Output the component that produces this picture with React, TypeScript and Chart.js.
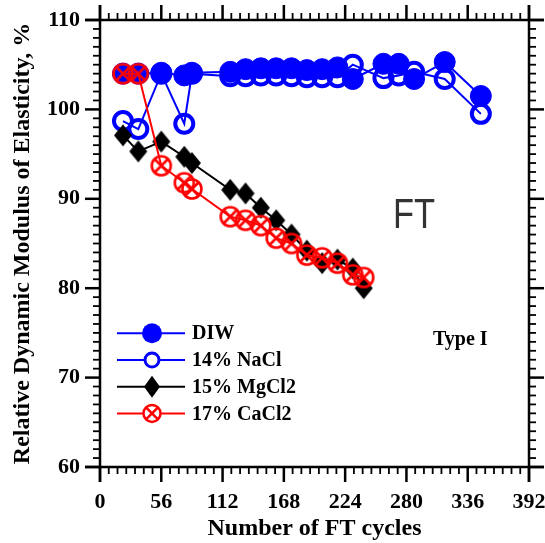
import React, { useEffect, useRef } from 'react';
import { Chart, registerables } from 'chart.js';

Chart.register(...registerables);

// ---- data ----
const cleanCycles = [21, 35, 56, 77, 84, 119, 133, 147, 161, 175, 189, 203, 217, 231, 259, 273, 287, 315, 348];
const diw = [104.0, 104.0, 104.1, 103.8, 104.1, 104.2, 104.5, 104.6, 104.6, 104.6, 104.4, 104.5, 104.7, 103.4, 105.1, 105.1, 103.4, 105.3, 101.5];
const nacl = [98.7, 97.8, 104.0, 98.4, 104.0, 103.7, 103.7, 103.8, 103.8, 103.7, 103.6, 103.6, 103.6, 105.0, 103.5, 103.8, 104.2, 103.4, 99.5];
const saltCycles = [21, 35, 56, 77, 84, 119, 133, 147, 161, 175, 189, 203, 217, 231, 241];
const mgcl2 = [97.1, 95.3, 96.4, 94.7, 94.0, 91.0, 90.6, 89.0, 87.6, 86.0, 84.2, 82.8, 83.2, 82.2, 80.0];
const cacl2 = [104.0, 104.0, 93.7, 91.8, 91.1, 88.0, 87.6, 87.0, 85.6, 85.0, 83.7, 83.4, 82.8, 81.5, 81.2];
const seriesNames = ['DIW', '14% NaCl', '15% MgCl2', '17% CaCl2'];

const xMin = 0, xMax = 392, xMajor = 56, xMinor = 8;
const yMin = 60, yMax = 110, yMajor = 10, yMinor = 1;

const SERIF = '"Liberation Serif", "Times New Roman", serif';
const BLUE = '#0000ff';
const RED = '#ff0000';

// ---- marker painters ----
function paintFilledCircle(ctx: CanvasRenderingContext2D, x: number, y: number, r: number) {
  ctx.beginPath(); ctx.arc(x, y, r, 0, Math.PI * 2); ctx.fillStyle = BLUE; ctx.fill();
}
function paintOpenCircle(ctx: CanvasRenderingContext2D, x: number, y: number, r: number, lw: number) {
  ctx.beginPath(); ctx.arc(x, y, r, 0, Math.PI * 2); ctx.lineWidth = lw; ctx.strokeStyle = BLUE; ctx.stroke();
}
function paintDiamond(ctx: CanvasRenderingContext2D, x: number, y: number, hw: number, hh: number) {
  ctx.beginPath();
  ctx.moveTo(x, y - hh); ctx.lineTo(x + hw, y); ctx.lineTo(x, y + hh); ctx.lineTo(x - hw, y); ctx.closePath();
  ctx.fillStyle = '#000'; ctx.fill();
}
function paintCrossCircle(ctx: CanvasRenderingContext2D, x: number, y: number, r: number, lw: number) {
  ctx.lineWidth = lw; ctx.strokeStyle = RED;
  ctx.beginPath(); ctx.arc(x, y, r, 0, Math.PI * 2); ctx.stroke();
  const d = r * Math.SQRT1_2;
  ctx.beginPath();
  ctx.moveTo(x - d, y - d); ctx.lineTo(x + d, y + d);
  ctx.moveTo(x + d, y - d); ctx.lineTo(x - d, y + d);
  ctx.stroke();
}
function makeCanvas(w: number, h: number, paint: (c: CanvasRenderingContext2D) => void) {
  const c = document.createElement('canvas');
  c.width = w; c.height = h;
  const cx = c.getContext('2d')!;
  paint(cx);
  return c;
}

const decorPlugin = {
  id: 'decor',
  beforeDatasetsDraw(chart: any) {
    const ctx: CanvasRenderingContext2D = chart.ctx;
    const { left, right, top, bottom } = chart.chartArea;
    const xs = chart.scales.x, ys = chart.scales.y;
    ctx.save();
    ctx.strokeStyle = '#000';
    ctx.lineCap = 'butt';
    const ext = 15;
    const seg = (x1: number, y1: number, x2: number, y2: number) => { ctx.beginPath(); ctx.moveTo(x1, y1); ctx.lineTo(x2, y2); ctx.stroke(); };
    ctx.lineWidth = 2.5;
    seg(left - ext, bottom, right + ext, bottom);
    seg(left - ext, top, right + ext, top);
    seg(left, top - ext, left, bottom + ext);
    seg(right, top - ext, right, bottom + ext);
    for (let v = xMin; v <= xMax + 1e-9; v += xMinor) {
      const px = xs.getPixelForValue(v);
      const major = Math.abs(v % xMajor) < 1e-9;
      const L = major ? 15 : 7;
      ctx.lineWidth = major ? 2.5 : 1.8;
      seg(px, bottom, px, bottom + L);
      seg(px, top, px, top - L);
    }
    for (let v = yMin; v <= yMax + 1e-9; v += yMinor) {
      const py = ys.getPixelForValue(v);
      const major = Math.abs(v % yMajor) < 1e-9;
      const L = major ? 15 : 7;
      ctx.lineWidth = major ? 2.5 : 1.8;
      seg(left, py, left - L, py);
      seg(right, py, right + L, py);
    }
    ctx.restore();
  },
  afterDatasetsDraw(chart: any) {
    const ctx: CanvasRenderingContext2D = chart.ctx;
    ctx.save();
    // legend
    const rowY0 = 333.3, rowStep = 26.7;
    const lineX1 = 117, lineX2 = 185, markX = 152, textX = 192;
    const colors = [BLUE, BLUE, '#000', RED];
    seriesNames.forEach((name, i) => {
      const y = rowY0 + i * rowStep;
      ctx.strokeStyle = colors[i]; ctx.lineWidth = 2;
      ctx.beginPath(); ctx.moveTo(lineX1, y); ctx.lineTo(lineX2, y); ctx.stroke();
      if (i === 0) paintFilledCircle(ctx, markX, y, 10);
      if (i === 1) { ctx.fillStyle = '#fff'; ctx.beginPath(); ctx.arc(markX, y, 7, 0, Math.PI * 2); ctx.fill(); paintOpenCircle(ctx, markX, y, 7, 3); }
      if (i === 2) paintDiamond(ctx, markX, y, 8, 11);
      if (i === 3) { ctx.fillStyle = '#fff'; ctx.beginPath(); ctx.arc(markX, y, 8.5, 0, Math.PI * 2); ctx.fill(); paintCrossCircle(ctx, markX, y, 8.5, 2.5); }
      ctx.fillStyle = '#000';
      ctx.font = 'bold 20px ' + SERIF;
      ctx.textBaseline = 'middle';
      ctx.textAlign = 'left';
      ctx.fillText(name, textX, y + 1);
    });
    // annotations
    ctx.font = 'bold 20px ' + SERIF;
    ctx.textBaseline = 'alphabetic';
    ctx.fillStyle = '#000';
    ctx.fillText('Type I', 433, 345);
    ctx.save();
    ctx.translate(393, 228);
    ctx.scale(0.82, 1);
    ctx.font = '42px "Liberation Sans", Arial, sans-serif';
    ctx.fillStyle = '#333333';
    ctx.fillText('FT', 0, 0);
    ctx.restore();
    ctx.restore();
  },
};

const zeroPad = (s: any) => { s.paddingLeft = 0; s.paddingRight = 0; s.paddingTop = 0; s.paddingBottom = 0; };

export default function App() {
  const ref = useRef<HTMLCanvasElement>(null);
  useEffect(() => {
    const crossImg = makeCanvas(24, 24, (c) => paintCrossCircle(c, 12, 12, 9.5, 2.6));
    const diamondImg = makeCanvas(20, 24, (c) => paintDiamond(c, 10, 12, 9, 11));
    const tickFont = { family: SERIF, size: 22, weight: 'bold' as const };
    const titleFont = { family: SERIF, size: 24, weight: 'bold' as const };
    const chart = new Chart(ref.current!, {
      type: 'line',
      data: {
        datasets: [
          {
            label: seriesNames[0],
            data: cleanCycles.map((c, i) => ({ x: c, y: diw[i] })),
            borderColor: BLUE, borderWidth: 2,
            pointStyle: 'circle', pointRadius: 10.5, pointBorderWidth: 1,
            pointBackgroundColor: BLUE, pointBorderColor: BLUE,
            tension: 0, order: 3,
          },
          {
            label: seriesNames[1],
            data: cleanCycles.map((c, i) => ({ x: c, y: nacl[i] })),
            borderColor: BLUE, borderWidth: 2,
            pointStyle: 'circle', pointRadius: 9, pointBorderWidth: 4,
            pointBackgroundColor: 'rgba(0,0,0,0)', pointBorderColor: BLUE,
            tension: 0, order: 4,
          },
          {
            label: seriesNames[2],
            data: saltCycles.map((c, i) => ({ x: c, y: mgcl2[i] })),
            borderColor: '#000', borderWidth: 2,
            pointStyle: diamondImg as any, pointRadius: 10,
            tension: 0, order: 2,
          },
          {
            label: seriesNames[3],
            data: saltCycles.map((c, i) => ({ x: c, y: cacl2[i] })),
            borderColor: RED, borderWidth: 2,
            pointStyle: crossImg as any, pointRadius: 10,
            tension: 0, order: 1,
          },
        ],
      },
      options: {
        responsive: false,
        animation: false,
        layout: { padding: { left: 0, right: 16, top: 20, bottom: 0 } },
        plugins: { legend: { display: false }, tooltip: { enabled: false } },
        scales: {
          x: {
            type: 'linear', position: 'bottom', min: xMin, max: xMax,
            ticks: { stepSize: xMajor, font: tickFont, color: '#000', padding: 22, maxRotation: 0, autoSkip: false },
            grid: { display: false, drawTicks: false },
            border: { display: false },
            title: { display: true, text: 'Number of FT cycles', font: titleFont, color: '#000', padding: { top: 3, bottom: 0 } },
            afterFit: (s: any) => { s.height = 76; zeroPad(s); },
          },
          y: {
            type: 'linear', position: 'left', min: yMin, max: yMax,
            ticks: { stepSize: yMajor, font: tickFont, color: '#000', padding: 20 },
            grid: { display: false, drawTicks: false },
            border: { display: false },
            title: { display: true, text: 'Relative Dynamic Modulus of Elasticity, %', font: titleFont, color: '#000', padding: { top: 8, bottom: 0 } },
            afterFit: (s: any) => { s.width = 100; zeroPad(s); },
          },
        },
      },
      plugins: [decorPlugin],
    } as any);
    return () => chart.destroy();
  }, []);
  return (
    <div style={{ position: 'absolute', left: 0, top: 0, width: 545, height: 543, background: '#fff' }}>
      <canvas ref={ref} width={545} height={543} style={{ display: 'block' }} />
    </div>
  );
}
